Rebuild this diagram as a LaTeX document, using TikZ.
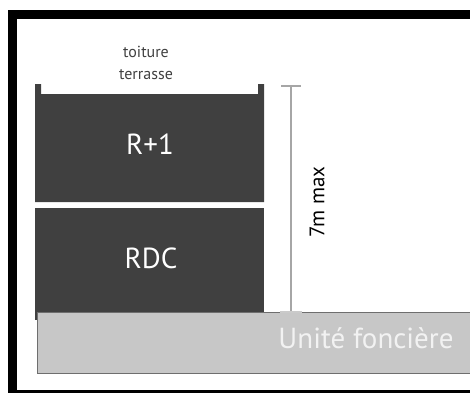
\documentclass[tikz,border=0pt]{standalone}
\usepackage{fontspec}
\setmainfont{PT Sans}
\definecolor{batiment}{HTML}{404040}
\definecolor{terrain}{HTML}{C7C7C7}
\definecolor{bordterrain}{HTML}{6E6E6E}
\definecolor{cote}{HTML}{A6A6A6}
\begin{document}
\begin{tikzpicture}[x=1pt,y=1pt,
        niveau/.style={text=white, font=\fontsize{29}{32}\selectfont},
        cotation/.style={draw=cote, line width=1.6pt}]
            \useasboundingbox (0,0) rectangle (470,392);
            \clip (0,0) rectangle (470,392);

            % Cadre
            \draw[line width=9pt] (12,377.5) rectangle (480,-2.5);

            % Batiment
            \begin{scope}[fill=batiment]
                \fill (35,190) -- (35,308) -- (41,308) -- (41,298) -- (258,298)
                      -- (258,308) -- (264,308) -- (264,190) -- cycle;
                \fill (35,72) rectangle (264,184);
            \end{scope}
            \node[align=center, text=black!75, font=\fontsize{16}{22}\selectfont] (toit) at (146,329) {toiture\\terrasse};
            \node[niveau] (r1) at (150,248) {R+1};
            \node[niveau] (rdc) at (151,134) {RDC};

            % Terrain
            \draw[fill=terrain, draw=bordterrain, line width=1pt] (37,80) rectangle (480,19);
            \node[text=white!95!black, font=\fontsize{29}{32}\selectfont] (uf) at (366,54) {Unité foncière};

            % Hauteur maximale
            \coordinate (haut) at (291,306);
            \coordinate (bas) at (291,80);
            \draw[cotation] (haut) -- (bas);
            \draw[cotation] ([xshift=-10pt]haut) -- ([xshift=10pt]haut);
            \draw[draw=cote!60, line width=1.2pt] ([xshift=-11pt]bas) -- ([xshift=11pt]bas);
            \node[rotate=90, font=\fontsize{21}{24}\selectfont] (h) at (317,190) {7m max};
        \end{tikzpicture}
\end{document}
